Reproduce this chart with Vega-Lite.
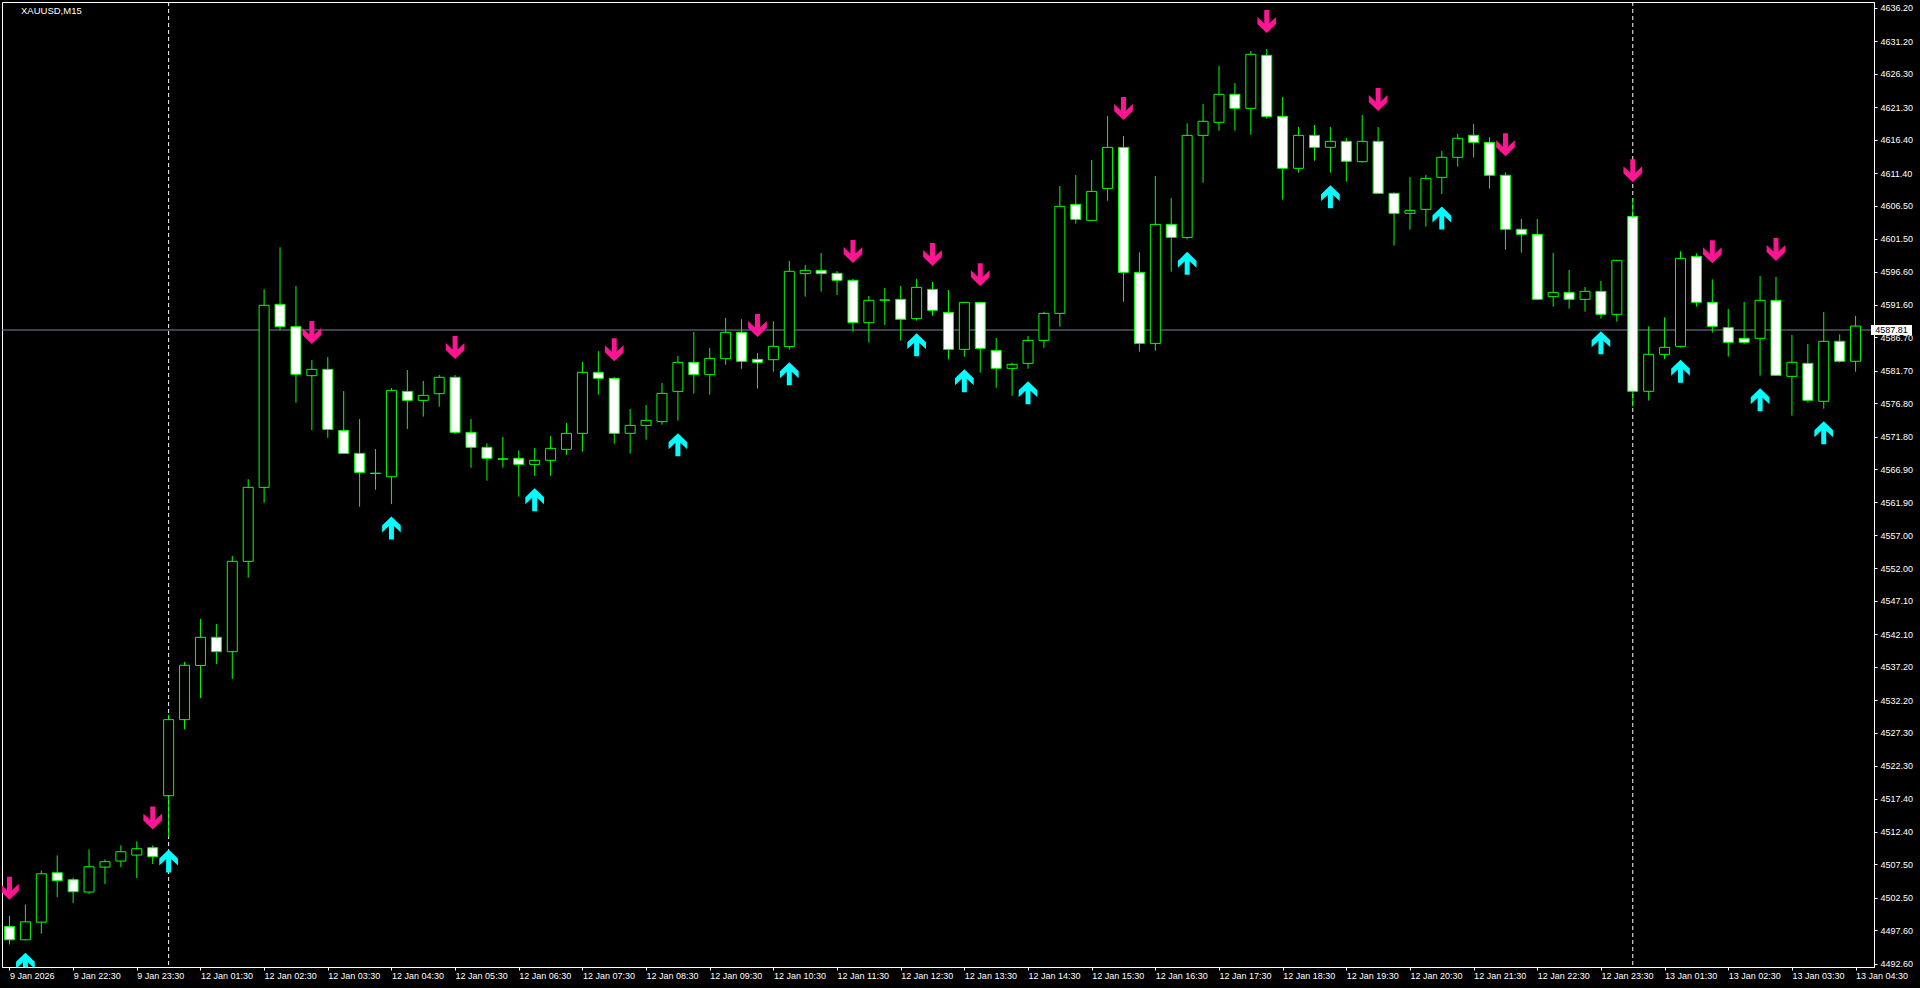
{
  "$schema": "https://vega.github.io/schema/vega-lite/v6.json",
  "width": 1872,
  "height": 965,
  "autosize": {"type": "none"},
  "padding": {"left": 2, "top": 2, "right": 46, "bottom": 21},
  "background": "#000000",
  "config": {
    "view": {"stroke": "#ffffff", "strokeWidth": 1, "fill": "#000000"},
    "font": "Liberation Sans",
    "axis": {"labelOverlap": false, "labelFlush": false, "labelBound": false, "grid": false, "title": null}
  },
  "datasets": {
    "bars": [
      {"i":0,"o":4498.18,"h":4499.79,"l":4495.48,"c":4496.18,"s":"dn"},
      {"i":1,"o":4496.18,"h":4501.49,"l":4496.1,"c":4498.88,"s":"up"},
      {"i":2,"o":4498.83,"h":4506.6,"l":4497.08,"c":4506.1},
      {"i":3,"o":4506.25,"h":4508.86,"l":4502.59,"c":4505.05},
      {"i":4,"o":4505.2,"h":4505.5,"l":4501.69,"c":4503.4},
      {"i":5,"o":4503.35,"h":4509.76,"l":4503.1,"c":4507.15},
      {"i":6,"o":4507.1,"h":4508.26,"l":4504.55,"c":4507.91},
      {"i":7,"o":4508.01,"h":4510.36,"l":4507.1,"c":4509.41},
      {"i":8,"o":4508.91,"h":4510.96,"l":4505.45,"c":4509.86},
      {"i":9,"o":4510.01,"h":4510.36,"l":4507.56,"c":4508.66,"s":"dn"},
      {"i":10,"o":4517.83,"h":4530.0,"l":4511.62,"c":4529.26,"s":"up","d":1},
      {"i":11,"o":4529.26,"h":4537.93,"l":4527.81,"c":4537.43},
      {"i":12,"o":4537.4,"h":4544.38,"l":4532.51,"c":4541.63},
      {"i":13,"o":4541.63,"h":4543.63,"l":4537.62,"c":4539.47},
      {"i":14,"o":4539.47,"h":4553.85,"l":4535.37,"c":4553.05},
      {"i":15,"o":4553.05,"h":4565.4,"l":4550.59,"c":4564.17},
      {"i":16,"o":4564.17,"h":4593.93,"l":4561.85,"c":4591.52},
      {"i":17,"o":4591.67,"h":4600.24,"l":4587.81,"c":4588.31},
      {"i":18,"o":4588.31,"h":4594.43,"l":4576.89,"c":4581.15},
      {"i":19,"o":4580.95,"h":4583.3,"l":4572.77,"c":4581.9,"s":"dn"},
      {"i":20,"o":4581.9,"h":4583.75,"l":4571.62,"c":4572.87},
      {"i":21,"o":4572.72,"h":4578.64,"l":4569.2,"c":4569.27},
      {"i":22,"o":4569.27,"h":4574.43,"l":4561.25,"c":4566.41},
      {"i":23,"o":4566.3,"h":4569.92,"l":4563.8,"c":4566.25},
      {"i":24,"o":4565.76,"h":4579.09,"l":4561.65,"c":4578.74,"s":"up"},
      {"i":25,"o":4578.59,"h":4581.8,"l":4572.93,"c":4577.24},
      {"i":26,"o":4577.24,"h":4580.15,"l":4574.79,"c":4577.99},
      {"i":27,"o":4578.24,"h":4581.05,"l":4576.29,"c":4580.7},
      {"i":28,"o":4580.7,"h":4581.05,"l":4572.18,"c":4572.43,"s":"dn"},
      {"i":29,"o":4572.43,"h":4574.44,"l":4567.12,"c":4570.18},
      {"i":30,"o":4570.18,"h":4570.78,"l":4565.17,"c":4568.53},
      {"i":31,"o":4568.45,"h":4571.73,"l":4567.12,"c":4568.4},
      {"i":32,"o":4568.53,"h":4569.73,"l":4562.77,"c":4567.62},
      {"i":33,"o":4567.62,"h":4570.08,"l":4565.92,"c":4568.23,"s":"up"},
      {"i":34,"o":4568.23,"h":4571.88,"l":4565.92,"c":4570.03},
      {"i":35,"o":4569.88,"h":4573.83,"l":4569.08,"c":4572.28},
      {"i":36,"o":4572.28,"h":4583.0,"l":4569.53,"c":4581.45},
      {"i":37,"o":4581.45,"h":4584.65,"l":4578.09,"c":4580.55},
      {"i":38,"o":4580.55,"h":4580.7,"l":4570.73,"c":4572.28,"s":"dn"},
      {"i":39,"o":4572.28,"h":4575.94,"l":4569.23,"c":4573.48},
      {"i":40,"o":4573.48,"h":4576.54,"l":4571.33,"c":4574.24},
      {"i":41,"o":4574.04,"h":4579.85,"l":4573.58,"c":4578.29},
      {"i":42,"o":4578.59,"h":4583.9,"l":4574.19,"c":4582.95,"s":"up"},
      {"i":43,"o":4582.95,"h":4587.51,"l":4578.25,"c":4581.1},
      {"i":44,"o":4581.1,"h":4585.11,"l":4578.1,"c":4583.55},
      {"i":45,"o":4583.5,"h":4589.62,"l":4582.6,"c":4587.46},
      {"i":46,"o":4587.46,"h":4589.42,"l":4582.0,"c":4583.1},
      {"i":47,"o":4583.4,"h":4584.36,"l":4579.0,"c":4582.95,"s":"dn"},
      {"i":48,"o":4583.35,"h":4589.12,"l":4581.55,"c":4585.36},
      {"i":49,"o":4585.31,"h":4598.18,"l":4584.86,"c":4596.63,"s":"up"},
      {"i":50,"o":4596.28,"h":4597.58,"l":4592.82,"c":4596.78},
      {"i":51,"o":4596.78,"h":4599.38,"l":4593.57,"c":4596.28},
      {"i":52,"o":4596.33,"h":4596.68,"l":4593.07,"c":4595.28},
      {"i":53,"o":4595.28,"h":4595.48,"l":4587.56,"c":4588.91,"s":"dn"},
      {"i":54,"o":4588.91,"h":4592.92,"l":4585.91,"c":4592.27},
      {"i":55,"o":4592.32,"h":4594.12,"l":4588.56,"c":4592.3},
      {"i":56,"o":4592.42,"h":4594.42,"l":4586.21,"c":4589.42},
      {"i":57,"o":4589.52,"h":4595.48,"l":4589.22,"c":4594.22,"s":"up"},
      {"i":58,"o":4593.92,"h":4595.03,"l":4589.97,"c":4590.77,"s":"dn"},
      {"i":59,"o":4590.46,"h":4593.82,"l":4583.4,"c":4584.9},
      {"i":60,"o":4584.9,"h":4592.0,"l":4583.8,"c":4591.96,"s":"up"},
      {"i":61,"o":4591.96,"h":4592.0,"l":4581.4,"c":4585.05,"s":"dn"},
      {"i":62,"o":4584.75,"h":4586.6,"l":4579.14,"c":4582.05},
      {"i":63,"o":4582.05,"h":4582.9,"l":4577.94,"c":4582.65},
      {"i":64,"o":4582.8,"h":4586.91,"l":4582.0,"c":4586.25,"s":"up"},
      {"i":65,"o":4586.25,"h":4590.56,"l":4585.15,"c":4590.31},
      {"i":66,"o":4590.31,"h":4609.44,"l":4588.31,"c":4606.39},
      {"i":67,"o":4606.69,"h":4611.1,"l":4603.79,"c":4604.44},
      {"i":68,"o":4604.29,"h":4613.35,"l":4604.2,"c":4608.64},
      {"i":69,"o":4609.09,"h":4619.96,"l":4607.24,"c":4615.25},
      {"i":70,"o":4615.25,"h":4616.96,"l":4592.06,"c":4596.47,"s":"dn"},
      {"i":71,"o":4596.47,"h":4599.48,"l":4584.55,"c":4585.8},
      {"i":72,"o":4585.8,"h":4610.95,"l":4584.7,"c":4603.68},
      {"i":73,"o":4603.68,"h":4607.64,"l":4596.57,"c":4601.73},
      {"i":74,"o":4601.73,"h":4618.86,"l":4601.43,"c":4617.06,"s":"up"},
      {"i":75,"o":4617.06,"h":4621.77,"l":4609.95,"c":4619.17},
      {"i":76,"o":4619.02,"h":4627.48,"l":4617.77,"c":4623.23},
      {"i":77,"o":4623.23,"h":4624.93,"l":4617.77,"c":4621.12},
      {"i":78,"o":4621.12,"h":4629.74,"l":4617.16,"c":4629.24},
      {"i":79,"o":4629.09,"h":4630.04,"l":4619.57,"c":4619.87,"s":"dn"},
      {"i":80,"o":4619.92,"h":4622.82,"l":4607.4,"c":4612.11},
      {"i":81,"o":4612.11,"h":4618.32,"l":4611.46,"c":4617.06},
      {"i":82,"o":4617.06,"h":4618.62,"l":4613.26,"c":4615.26},
      {"i":83,"o":4615.26,"h":4618.32,"l":4611.46,"c":4616.16,"s":"up"},
      {"i":84,"o":4616.16,"h":4616.66,"l":4610.1,"c":4613.16},
      {"i":85,"o":4613.11,"h":4620.12,"l":4612.96,"c":4616.16},
      {"i":86,"o":4616.16,"h":4618.32,"l":4608.3,"c":4608.35,"s":"dn"},
      {"i":87,"o":4608.35,"h":4608.5,"l":4600.49,"c":4605.34},
      {"i":88,"o":4605.34,"h":4610.8,"l":4602.89,"c":4605.79},
      {"i":89,"o":4605.94,"h":4611.1,"l":4603.34,"c":4610.6},
      {"i":90,"o":4610.75,"h":4614.71,"l":4608.25,"c":4613.76,"s":"up"},
      {"i":91,"o":4613.76,"h":4617.27,"l":4612.36,"c":4616.62},
      {"i":92,"o":4617.07,"h":4618.77,"l":4613.76,"c":4616.01},
      {"i":93,"o":4616.01,"h":4616.77,"l":4609.05,"c":4611.06},
      {"i":94,"o":4611.06,"h":4611.51,"l":4599.89,"c":4602.94,"s":"dn"},
      {"i":95,"o":4602.94,"h":4604.49,"l":4599.44,"c":4602.19},
      {"i":96,"o":4602.19,"h":4604.49,"l":4592.27,"c":4592.42},
      {"i":97,"o":4592.82,"h":4599.39,"l":4591.32,"c":4593.47},
      {"i":98,"o":4593.47,"h":4596.83,"l":4591.02,"c":4592.42},
      {"i":99,"o":4592.42,"h":4594.28,"l":4590.57,"c":4593.62},
      {"i":100,"o":4593.62,"h":4595.18,"l":4589.52,"c":4590.17,"s":"up"},
      {"i":101,"o":4590.17,"h":4598.3,"l":4589.07,"c":4598.28},
      {"i":102,"o":4604.89,"h":4607.6,"l":4576.29,"c":4578.6,"s":"dn","d":1},
      {"i":103,"o":4578.6,"h":4588.37,"l":4577.2,"c":4584.16},
      {"i":104,"o":4584.16,"h":4589.72,"l":4583.41,"c":4585.21},
      {"i":105,"o":4585.36,"h":4599.64,"l":4585.21,"c":4598.58,"s":"up"},
      {"i":106,"o":4598.88,"h":4599.33,"l":4591.32,"c":4591.97},
      {"i":107,"o":4591.97,"h":4595.43,"l":4587.41,"c":4588.36,"s":"dn"},
      {"i":108,"o":4588.16,"h":4590.97,"l":4583.81,"c":4585.96},
      {"i":109,"o":4586.56,"h":4592.02,"l":4585.76,"c":4585.96},
      {"i":110,"o":4586.56,"h":4595.93,"l":4580.95,"c":4592.27,"s":"up"},
      {"i":111,"o":4592.27,"h":4595.78,"l":4580.95,"c":4581.0,"s":"dn"},
      {"i":112,"o":4580.85,"h":4587.06,"l":4574.94,"c":4582.96},
      {"i":113,"o":4582.8,"h":4585.71,"l":4576.94,"c":4577.25},
      {"i":114,"o":4577.1,"h":4590.52,"l":4575.99,"c":4586.11,"s":"up"},
      {"i":115,"o":4586.11,"h":4587.16,"l":4582.91,"c":4583.11},
      {"i":116,"o":4583.11,"h":4589.92,"l":4581.55,"c":4588.4}
    ],
    "quote": [{"symbol": "XAUUSD,M15", "price": 4587.81}]
  },
  "layer": [
    {
      "data": {"name": "bars"},
      "transform": [{"filter": "datum.d === 1"}],
      "mark": {"type": "rule", "color": "#ffffff", "strokeWidth": 1, "strokeDash": [4, 3], "clip": true},
      "encoding": {
        "x": {"field": "i", "type": "quantitative", "scale": {"domain": [-0.15625, 116.84375], "nice": false, "zero": false},
          "axis": {
            "values": [0,4,8,12,16,20,24,28,32,36,40,44,48,52,56,60,64,68,72,76,80,84,88,92,96,100,104,108,112,116],
            "tickCount": 60,
            "labelExpr": "['9 Jan 2026','9 Jan 22:30','9 Jan 23:30','12 Jan 01:30','12 Jan 02:30','12 Jan 03:30','12 Jan 04:30','12 Jan 05:30','12 Jan 06:30','12 Jan 07:30','12 Jan 08:30','12 Jan 09:30','12 Jan 10:30','12 Jan 11:30','12 Jan 12:30','12 Jan 13:30','12 Jan 14:30','12 Jan 15:30','12 Jan 16:30','12 Jan 17:30','12 Jan 18:30','12 Jan 19:30','12 Jan 20:30','12 Jan 21:30','12 Jan 22:30','12 Jan 23:30','13 Jan 01:30','13 Jan 02:30','13 Jan 03:30','13 Jan 04:30'][round(datum.value / 4)]",
            "title": null, "grid": false, "tickSize": 3, "tickColor": "#ffffff", "domainColor": "#ffffff",
            "labelColor": "#ffffff", "labelFont": "Liberation Sans", "labelFontSize": 9, "labelAlign": "left",
            "labelBaseline": "top", "labelPadding": 1, "labelDx": -2, "labelOverlap": false, "labelFlush": false, "labelBound": false
          }
        }
      }
    },
    {
      "data": {"name": "quote"},
      "mark": {"type": "rule", "color": "#778899", "strokeWidth": 1, "clip": true},
      "encoding": {
        "y": {"field": "price", "type": "quantitative", "scale": {"domain": [4492.09, 4637.1], "nice": false, "zero": false},
          "axis": {
            "orient": "right",
            "values": [4636.2,4631.2,4626.3,4621.3,4616.4,4611.4,4606.5,4601.5,4596.6,4591.6,4586.7,4581.7,4576.8,4571.8,4566.9,4561.9,4557,4552,4547.1,4542.1,4537.2,4532.2,4527.3,4522.3,4517.4,4512.4,4507.5,4502.5,4497.6,4492.6],
            "tickCount": 60,
            "format": ".2f", "title": null, "grid": false, "tickSize": 3, "tickColor": "#ffffff", "domainColor": "#ffffff",
            "labelColor": "#ffffff", "labelFont": "Liberation Sans", "labelFontSize": 9, "labelPadding": 3,
            "labelOverlap": false, "labelFlush": false, "labelBound": false
          }
        }
      }
    },
    {
      "data": {"name": "bars"},
      "mark": {"type": "rule", "color": "#00ff00", "strokeWidth": 1, "clip": true},
      "encoding": {
        "x": {"field": "i", "type": "quantitative", "scale": {"domain": [-0.15625, 116.84375], "nice": false, "zero": false}},
        "y": {"field": "l", "type": "quantitative", "scale": {"domain": [4492.09, 4637.1], "nice": false, "zero": false}},
        "y2": {"field": "h"}
      }
    },
    {
      "data": {"name": "bars"},
      "mark": {"type": "bar", "size": 10, "stroke": "#00ff00", "strokeWidth": 1, "clip": true},
      "encoding": {
        "x": {"field": "i", "type": "quantitative", "scale": {"domain": [-0.15625, 116.84375], "nice": false, "zero": false}},
        "y": {"field": "o", "type": "quantitative", "scale": {"domain": [4492.09, 4637.1], "nice": false, "zero": false}},
        "y2": {"field": "c"},
        "fill": {"condition": {"test": "datum.c < datum.o", "value": "#ffffff"}, "value": "#000000"}
      }
    },
    {
      "data": {"name": "bars"},
      "transform": [{"filter": "datum.s === 'dn'"}],
      "mark": {"type": "point", "shape": "M -0.217 -1 L 0.217 -1 L 0.217 0.174 L 0.813 -0.391 L 0.813 0.217 L 0 1 L -0.813 0.217 L -0.813 -0.391 L -0.217 0.174 Z", "size": 529, "filled": true, "color": "#ff1493", "opacity": 1, "strokeWidth": 0, "yOffset": -27.5, "clip": true},
      "encoding": {
        "x": {"field": "i", "type": "quantitative", "scale": {"domain": [-0.15625, 116.84375], "nice": false, "zero": false}},
        "y": {"field": "h", "type": "quantitative", "scale": {"domain": [4492.09, 4637.1], "nice": false, "zero": false}}
      }
    },
    {
      "data": {"name": "bars"},
      "transform": [{"filter": "datum.s === 'up'"}],
      "mark": {"type": "point", "shape": "M -0.217 1 L 0.217 1 L 0.217 -0.174 L 0.813 0.391 L 0.813 -0.217 L 0 -1 L -0.813 -0.217 L -0.813 0.391 L -0.217 -0.174 Z", "size": 529, "filled": true, "color": "#00ffff", "opacity": 1, "strokeWidth": 0, "yOffset": 24, "clip": true},
      "encoding": {
        "x": {"field": "i", "type": "quantitative", "scale": {"domain": [-0.15625, 116.84375], "nice": false, "zero": false}},
        "y": {"field": "l", "type": "quantitative", "scale": {"domain": [4492.09, 4637.1], "nice": false, "zero": false}}
      }
    },
    {
      "data": {"name": "quote"},
      "mark": {"type": "point", "shape": "M -1 -0.244 L 1 -0.244 L 1 0.244 L -1 0.244 Z", "size": 1681, "filled": true, "color": "#ffffff", "opacity": 1, "strokeWidth": 0, "xOffset": 22.5},
      "encoding": {
        "x": {"datum": 116.84375, "type": "quantitative", "scale": {"domain": [-0.15625, 116.84375], "nice": false, "zero": false}},
        "y": {"field": "price", "type": "quantitative", "scale": {"domain": [4492.09, 4637.1], "nice": false, "zero": false}}
      }
    },
    {
      "data": {"name": "quote"},
      "mark": {"type": "text", "align": "center", "baseline": "middle", "dx": 22.5, "font": "Liberation Sans", "fontSize": 9, "color": "#000000"},
      "encoding": {
        "x": {"datum": 116.84375, "type": "quantitative", "scale": {"domain": [-0.15625, 116.84375], "nice": false, "zero": false}},
        "y": {"field": "price", "type": "quantitative", "scale": {"domain": [4492.09, 4637.1], "nice": false, "zero": false}},
        "text": {"field": "price", "type": "quantitative", "format": ".2f"}
      }
    },
    {
      "data": {"name": "quote"},
      "mark": {"type": "text", "align": "left", "baseline": "middle", "dx": 14, "dy": 9, "font": "Liberation Sans", "fontSize": 9.5, "color": "#ffffff"},
      "encoding": {
        "x": {"datum": -0.15625, "type": "quantitative", "scale": {"domain": [-0.15625, 116.84375], "nice": false, "zero": false}},
        "y": {"datum": 4637.1, "type": "quantitative", "scale": {"domain": [4492.09, 4637.1], "nice": false, "zero": false}},
        "text": {"field": "symbol", "type": "nominal"}
      }
    }
  ]
}
